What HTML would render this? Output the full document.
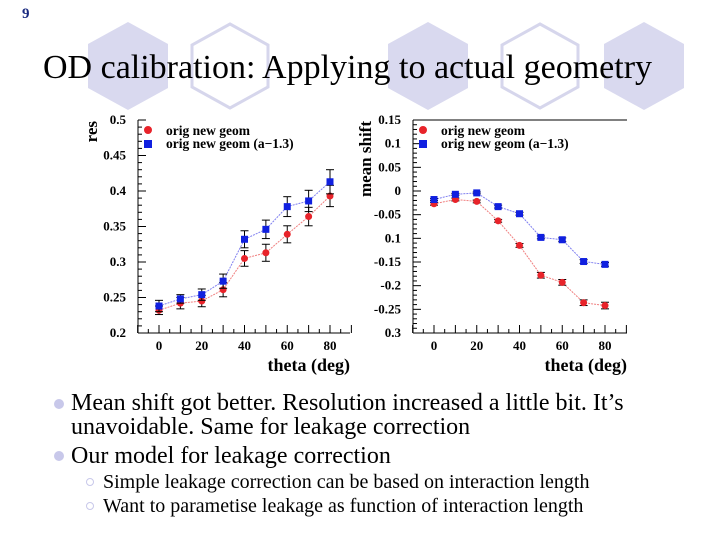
<!DOCTYPE html>
<html><head><meta charset="utf-8"><style>
body{margin:0;width:720px;height:540px;background:#fff;position:relative;overflow:hidden;font-family:"Liberation Serif",serif}
.t{position:absolute;white-space:nowrap}
</style></head><body>
<svg width="720" height="540" style="position:absolute;left:0;top:0">
<g>
<polygon points="128,22 168,44 168,88 128,110 88,88 88,44" fill="#d9d9ef"/>
<polygon points="230,24 268,45 268,87 230,108 192,87 192,45" fill="none" stroke="#d6d6ec" stroke-width="3"/>
<polygon points="428,22 468,44 468,88 428,110 388,88 388,44" fill="#d9d9ef"/>
<polygon points="540,24 578,45 578,87 540,108 502,87 502,45" fill="none" stroke="#d6d6ec" stroke-width="3"/>
<polygon points="644,22 684,44 684,88 644,110 604,88 604,44" fill="#d9d9ef"/>
</g>
<g id="charts"></g>
<circle cx="59" cy="404" r="5" fill="#c8c8ea"/>
<circle cx="59" cy="456" r="5" fill="#c8c8ea"/>
<circle cx="90" cy="482" r="3.5" fill="none" stroke="#c8c8ea" stroke-width="1"/>
<circle cx="90" cy="506" r="3.5" fill="none" stroke="#c8c8ea" stroke-width="1"/>
</svg>
<div class="t" style="left:22px;top:6px;font-size:15px;font-weight:bold;color:#1a2a80">9</div>
<div class="t" style="left:43px;top:49px;font-size:34px;color:#000">OD calibration: Applying to actual geometry</div>
<div class="t" style="left:71px;top:391px;font-size:24px;line-height:24px">Mean shift got better. Resolution increased a little bit. It’s<br>unavoidable. Same for leakage correction</div>
<div class="t" style="left:71px;top:443px;font-size:24px">Our model for leakage correction</div>
<div class="t" style="left:103px;top:471px;font-size:20px">Simple leakage correction can be based on interaction length</div>
<div class="t" style="left:103px;top:495px;font-size:20px">Want to parametise leakage as function of interaction length</div>
<script>
const thetas=[0,10,20,30,40,50,60,70,80];
const resRed=[0.232,0.242,0.245,0.261,0.305,0.313,0.339,0.364,0.393];
const resRedErr=[0.006,0.008,0.008,0.010,0.011,0.012,0.012,0.013,0.015];
const resBlue=[0.238,0.248,0.254,0.273,0.332,0.346,0.378,0.386,0.413];
const resBlueErr=[0.008,0.006,0.008,0.010,0.012,0.013,0.014,0.015,0.017];
const shiftRed=[-0.027,-0.018,-0.022,-0.063,-0.115,-0.178,-0.193,-0.236,-0.242];
const shiftRedErr=[0.003,0.003,0.003,0.003,0.004,0.006,0.006,0.006,0.007];
const shiftBlue=[-0.018,-0.007,-0.004,-0.033,-0.048,-0.098,-0.103,-0.149,-0.155];
const shiftBlueErr=[0.002,0.002,0.002,0.003,0.003,0.003,0.004,0.004,0.004];
const resTicks=["0.2","0.25","0.3","0.35","0.4","0.45","0.5"];
const shiftTicks=["0.3","-0.25","-0.2","-0.15","0.1","-0.05","0","0.05","0.1","0.15"];
const xTicks=["0","20","40","60","80"];
const NS="http://www.w3.org/2000/svg";
const root=document.getElementById('charts');
function mk(tag,attrs,parent){const e=document.createElementNS(NS,tag);for(const k in attrs)e.setAttribute(k,attrs[k]);(parent||root).appendChild(e);return e;}
function chart(o){
 const g=mk('g',{});
 
 
 const X=v=>o.x0+(v-0)*(o.x80-o.x0)/80;
 const Y=v=>o.yb+(v-o.ymin)*(o.yt-o.yb)/(o.ymax-o.ymin);
 mk('line',{x1:o.ax,y1:o.yt,x2:o.ax,y2:o.yb,stroke:'#000','stroke-width':1},g);
 mk('line',{x1:o.ax,y1:o.yb,x2:o.xr,y2:o.yb,stroke:'#000','stroke-width':1},g);
 if(o.top)mk('line',{x1:o.ax,y1:o.yt,x2:o.xr,y2:o.yt,stroke:'#000','stroke-width':1},g);
 const n=o.ticks.length;
 for(let i=0;i<n;i++){const v=o.ymin+i*0.05;const y=Y(v);
  mk('line',{x1:o.ax,y1:y,x2:o.ax+8,y2:y,stroke:'#000'},g);
  if(i<n-1)for(let j=1;j<5;j++){const yy=Y(v+j*0.01);mk('line',{x1:o.ax,y1:yy,x2:o.ax+4,y2:yy,stroke:'#000'},g);}
  const t=mk('text',{x:o.ax-12,y:y+4,'text-anchor':'end','font-size':13,'font-weight':'bold','font-family':'Liberation Serif'},g);t.textContent=o.ticks[i];
  
  
 }
 for(let v=-10;v<=90;v+=5){const x=X(v);mk('line',{x1:x,y1:o.yb,x2:x,y2:o.yb-(v%10===0?8:4),stroke:'#000'},g);}
 xTicks.forEach(s=>{const t=mk('text',{x:X(+s),y:o.yb+17,'text-anchor':'middle','font-size':13,'font-weight':'bold','font-family':'Liberation Serif'},g);t.textContent=s;
  
  });
 const xt=mk('text',{x:o.xr,y:o.yb+38,'text-anchor':'end','font-size':18,'font-weight':'bold','font-family':'Liberation Serif'},g);xt.textContent='theta (deg)';
 
 
 const yt=mk('text',{transform:`translate(${o.ylx},${o.yt+1}) rotate(-90)`,'text-anchor':'end','font-size':17,'font-weight':'bold','font-family':'Liberation Serif'},g);yt.textContent=o.ylabel;
 
 
 [[o.red,o.redErr,'#e8232a','#f08080',0],[o.blue,o.blueErr,'#1020e0','#8080f0',1]].forEach(([d,e,c,lc,sq])=>{
  const s=mk('g',{},g);
  
  
  mk('polyline',{points:d.map((v,i)=>X(thetas[i])+','+Y(v)).join(' '),fill:'none',stroke:lc,'stroke-width':1,'stroke-dasharray':'2,1'},s);
  d.forEach((v,i)=>{const x=X(thetas[i]);
   mk('line',{x1:x,y1:Y(v-e[i]),x2:x,y2:Y(v+e[i]),stroke:'#000'},s);
   mk('line',{x1:x-4,y1:Y(v-e[i]),x2:x+4,y2:Y(v-e[i]),stroke:'#000'},s);
   mk('line',{x1:x-4,y1:Y(v+e[i]),x2:x+4,y2:Y(v+e[i]),stroke:'#000'},s);
   const m=sq?mk('rect',{x:x-3.5,y:Y(v)-3.5,width:7,height:7,fill:c},s):mk('circle',{cx:x,cy:Y(v),r:3.5,fill:c},s);
   
   
  });
 });
 const lg=mk('g',{},g);
 
 
 mk('circle',{cx:o.ax+10,cy:o.yt+10,r:4,fill:'#e8232a'},lg);
 mk('rect',{x:o.ax+6,y:o.yt+20,width:8,height:8,fill:'#1020e0'},lg);
 const l1=mk('text',{x:o.ax+28,y:o.yt+15,'font-size':13.5,'font-weight':'bold','font-family':'Liberation Serif'},lg);l1.textContent='orig new geom';
 const l2=mk('text',{x:o.ax+28,y:o.yt+28,'font-size':13.5,'font-weight':'bold','font-family':'Liberation Serif'},lg);l2.textContent='orig new geom (a−1.3)';
}
chart({name:'res-chart',ax:138,xr:350,x0:159,x80:330,yt:120,yb:333,ymin:0.2,ymax:0.5,ticks:resTicks,ylabel:'res',ylx:97,red:resRed,redErr:resRedErr,blue:resBlue,blueErr:resBlueErr,top:false});
chart({name:'mean-shift-chart',ax:413,xr:627,x0:434,x80:605,yt:120,yb:333,ymin:-0.3,ymax:0.15,ticks:shiftTicks,ylabel:'mean shift',ylx:371,red:shiftRed,redErr:shiftRedErr,blue:shiftBlue,blueErr:shiftBlueErr,top:true});
</script>
</body></html>
